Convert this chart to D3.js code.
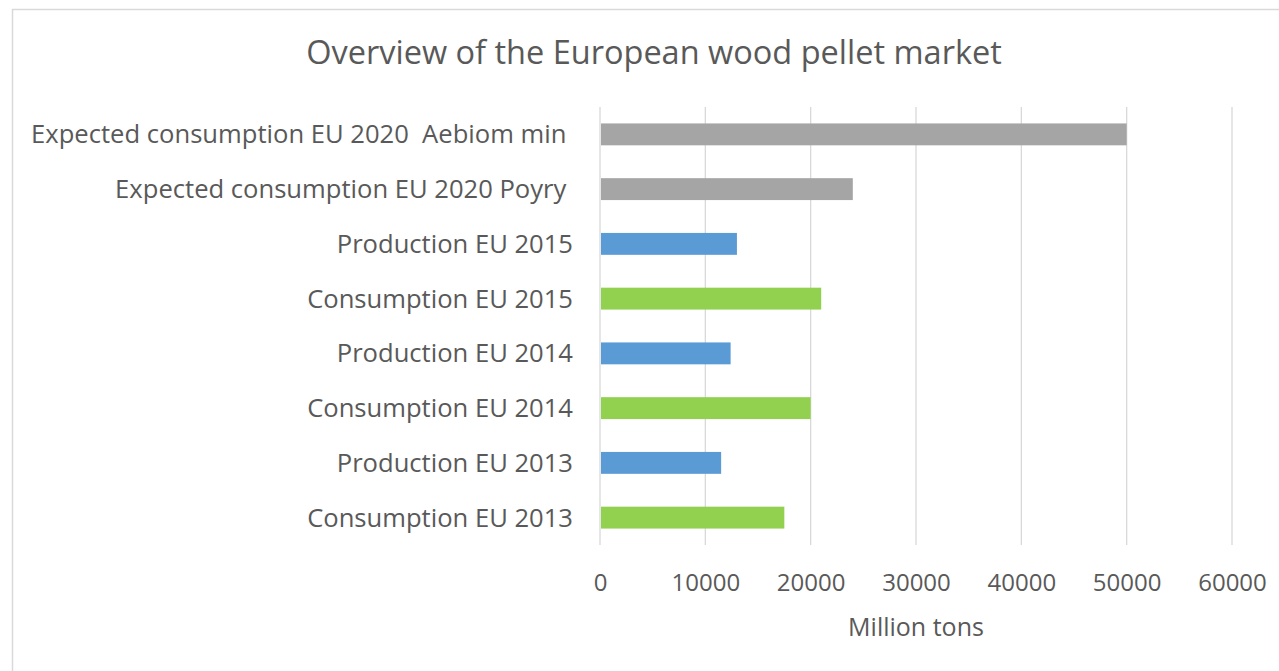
<!DOCTYPE html>
<html>
<head>
<meta charset="utf-8">
<script src="https://cdn.jsdelivr.net/npm/d3@7"></script>
<style>
  html, body { margin: 0; padding: 0; background: #fff; }
  svg { display: block; }
  svg text { font-family: "Open Sans", "Noto Sans", sans-serif; }
</style>
</head>
<body>
<svg id="chart" width="1279" height="671"></svg>
<script>
// chart data, top row first
var categories = [
  "Expected consumption EU 2020  Aebiom min ",
  "Expected consumption EU 2020 Poyry ",
  "Production EU 2015",
  "Consumption EU 2015",
  "Production EU 2014",
  "Consumption EU 2014",
  "Production EU 2013",
  "Consumption EU 2013"
];
var values = [50000, 24000, 13000, 21000, 12400, 20000, 11500, 17500];
var kinds = ["expected", "expected", "production", "consumption",
             "production", "consumption", "production", "consumption"];
var xTicks = [0, 10000, 20000, 30000, 40000, 50000, 60000];

var title = "Overview of the European wood pellet market";
var xTitle = "Million tons";

var kindColor = { expected: "#A5A5A5", production: "#5B9BD5", consumption: "#92D050" };
var textColor = "#595959";
var gridColor = "#D9D9D9";

var svg = d3.select("#chart");
var W = 1279, H = 671;

// chart frame (only left/top edges fall inside the picture)
svg.append("rect")
  .attr("x", 12.5).attr("y", 9.5)
  .attr("width", W).attr("height", H)
  .attr("fill", "#fff")
  .attr("stroke", gridColor).attr("stroke-width", 1.5);

var plot = { left: 600, right: 1232, top: 107, bottom: 545 };

var x = d3.scaleLinear().domain([0, 60000]).range([plot.left, plot.right]);
var y = d3.scaleBand().domain(categories)
  .range([plot.top, plot.bottom])
  .paddingInner(0.6).paddingOuter(0.3);

// gridlines
svg.append("g").selectAll("line").data(xTicks).enter().append("line")
  .attr("x1", function(d){ return x(d); })
  .attr("x2", function(d){ return x(d); })
  .attr("y1", plot.top).attr("y2", plot.bottom)
  .attr("stroke", gridColor).attr("stroke-width", 1.3);

// bars
svg.append("g").selectAll("rect").data(categories).enter().append("rect")
  .attr("x", x(0) + 1)
  .attr("y", function(d){ return y(d); })
  .attr("width", function(d, i){ return x(values[i]) - x(0) - 1; })
  .attr("height", y.bandwidth())
  .attr("fill", function(d, i){ return kindColor[kinds[i]]; });

// category labels
var yAxis = d3.axisLeft(y).tickSize(0).tickPadding(0);
var yg = svg.append("g").attr("transform", "translate(573,0)").call(yAxis);
yg.attr("font-family", null);
yg.select(".domain").remove();
yg.selectAll("text")
  .attr("fill", textColor)
  .style("font-size", "25.6px")
  .style("white-space", "pre")
  .attr("dy", "0.35em");

// x tick labels
var xAxis = d3.axisBottom(x).tickValues(xTicks).tickSize(0).tickPadding(0)
  .tickFormat(d3.format("d"));
var xg = svg.append("g").attr("transform", "translate(0,583)").call(xAxis);
xg.attr("font-family", null);
xg.select(".domain").remove();
xg.selectAll("text")
  .attr("fill", textColor)
  .style("font-size", "24px")
  .attr("dy", "0.35em");

// axis title
svg.append("text")
  .attr("x", (plot.left + plot.right) / 2).attr("y", 627)
  .attr("dy", "0.35em")
  .attr("text-anchor", "middle")
  .attr("fill", textColor)
  .style("font-size", "25px")
  .text(xTitle);

// chart title
svg.append("text")
  .attr("x", 654).attr("y", 53)
  .attr("dy", "0.35em")
  .attr("text-anchor", "middle")
  .attr("fill", textColor)
  .style("font-size", "32.5px")
  .text(title);
</script>
</body>
</html>
